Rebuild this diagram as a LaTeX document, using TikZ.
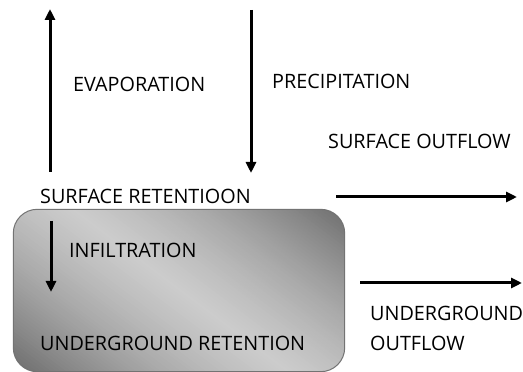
\documentclass[tikz,border=0pt]{standalone}
\usepackage{fontspec}
\setmainfont{Open Sans}
\usetikzlibrary{arrows.meta}

\tikzset{
  flow/.style={line width=3pt,-{Triangle[length=11pt,width=10pt]}},
  lbl/.style={anchor=west,inner sep=0pt,font=\fontsize{19.8}{22}\selectfont},
  store/.style={inner sep=0pt,minimum width=331pt,minimum height=162pt},
  rim/.style={draw=black!55,line width=1pt,rounded corners=24pt}
}

\begin{document}
\begin{tikzpicture}[x=1pt,y=1pt]
  \useasboundingbox (0,0) rectangle (523,372);

  % underground box, grey shade by diagonal strips
  \node[store] (ground) at (179,81.5) {};
  \begin{scope}
    \clip[rounded corners=24pt] (ground.south west) rectangle (ground.north east);
    \foreach \p in {-192,-189,...,192}{
      \pgfmathsetmacro\tone{min(62,20+0.13*abs(\p)+6*(\p/100)*(\p/100))}
      \fill[black!\tone,shift={(ground.center)},rotate=53] (\p-0.3,-220) rectangle (\p+3.3,220);
    }
  \end{scope}
  \draw[rim] (ground.south west) rectangle (ground.north east);

  % labels
  \node[lbl] (evap) at (73,288) {EVAPORATION};
  \node[lbl] (prec) at (272,291) {PRECIPITATION};
  \node[lbl] (sout) at (328,231) {SURFACE OUTFLOW};
  \node[lbl] (sret) at (40,176) {SURFACE RETENTIOON};
  \node[lbl] (infl) at (69,122) {INFILTRATION};
  \node[lbl] (gret) at (40,29) {UNDERGROUND RETENTION};
  \node[lbl] (gout1) at (370,59) {UNDERGROUND};
  \node[lbl] (gout2) at (370,29) {OUTFLOW};

  % arrow ends
  \coordinate (evapA) at (50,200);
  \coordinate (evapB) at (50,363);
  \coordinate (precA) at (251,362);
  \coordinate (precB) at (251,199);
  \coordinate (soutA) at (336,175);
  \coordinate (soutB) at (517,175);
  \coordinate (inflA) at (51,151);
  \coordinate (inflB) at (51,80);
  \coordinate (goutA) at (360,89);
  \coordinate (goutB) at (522,89);

  \draw[flow] (evapA) -- (evapB);
  \draw[flow] (precA) -- (precB);
  \draw[flow] (soutA) -- (soutB);
  \draw[flow] (inflA) -- (inflB);
  \draw[flow] (goutA) -- (goutB);
\end{tikzpicture}
\end{document}
